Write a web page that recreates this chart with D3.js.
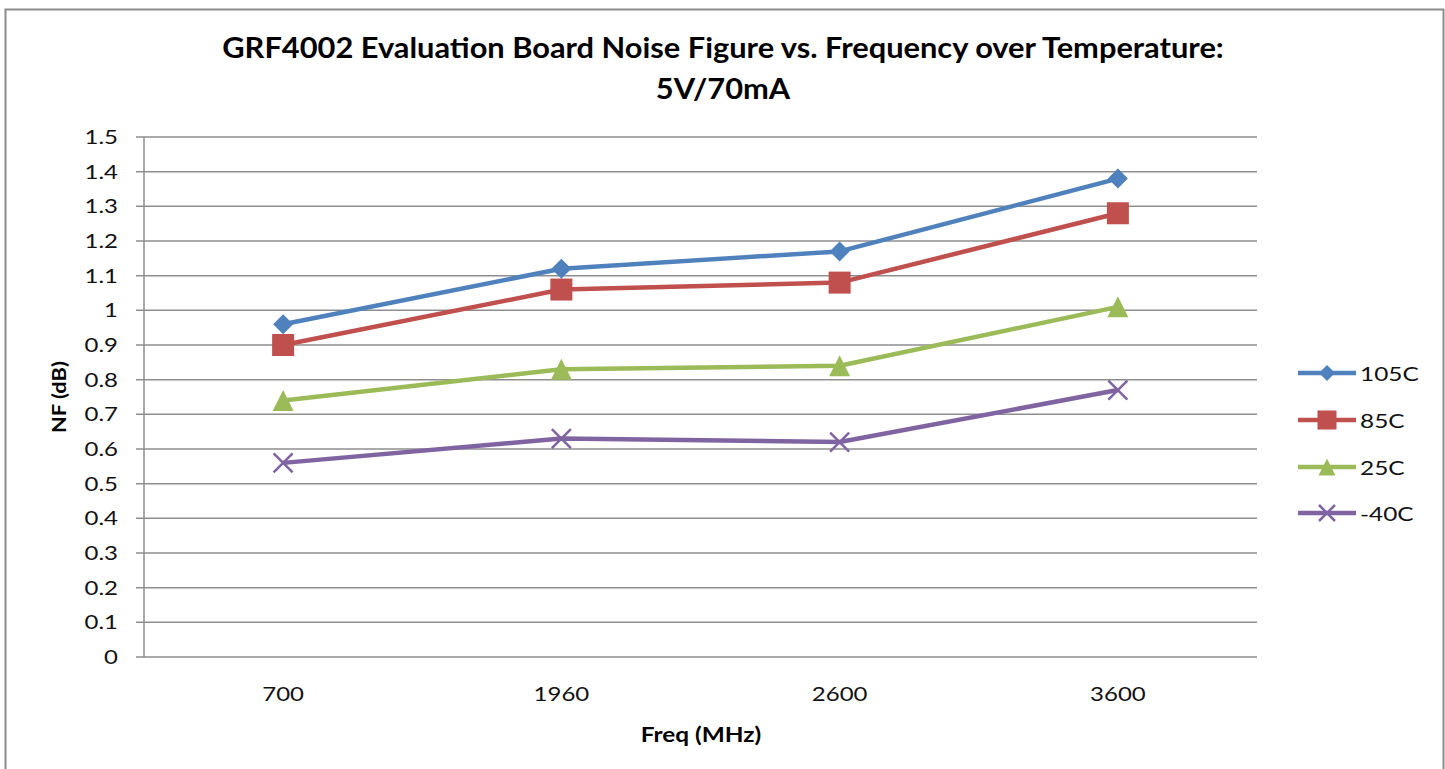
<!DOCTYPE html>
<html>
<head>
<meta charset="utf-8">
<script src="https://cdn.jsdelivr.net/npm/d3@7.9.0/dist/d3.min.js"></script>
<style>
  body { margin: 0; background: #fff; }
  svg { display: block; font-family: Lato, "Open Sans", sans-serif; }
</style>
</head>
<body>
<svg width="1445" height="769"></svg>
<script>
// data
const freqs = ['700', '1960', '2600', '3600'];
const seriesNames = ['105C', '85C', '25C', '-40C'];
const nf105 = [0.96, 1.12, 1.17, 1.38];
const nf85 = [0.90, 1.06, 1.08, 1.28];
const nf25 = [0.74, 0.83, 0.84, 1.01];
const nfMinus40 = [0.56, 0.63, 0.62, 0.77];
const yTicks = [0, 0.1, 0.2, 0.3, 0.4, 0.5, 0.6, 0.7, 0.8, 0.9, 1, 1.1, 1.2, 1.3, 1.4, 1.5];

const colors = ['#4F81BD', '#C0504D', '#9BBB59', '#8064A2'];
const markers = ['diamond', 'square', 'triangle', 'cross'];
const allValues = [nf105, nf85, nf25, nfMinus40];

const svg = d3.select('svg');

// text in the picture is stretched sideways a bit
function stretchText(sel, x, y, sx) {
    return sel.attr('transform', `translate(${x},${y}) scale(${sx},1)`);
}

// outer frame
svg.append('rect')
    .attr('x', 5.5).attr('y', 9.5)
    .attr('width', 1438).attr('height', 780)
    .attr('fill', 'none').attr('stroke', '#8c8c8c').attr('stroke-width', 2);

const plot = { left: 144, right: 1257, top: 137, bottom: 657 };

let x = d3.scalePoint().domain(freqs).range([plot.left, plot.right]).padding(0.5);
let y = d3.scaleLinear().domain([0, 1.5]).range([plot.bottom, plot.top]);

// gridlines
svg.append('g')
    .selectAll('line')
    .data(yTicks)
    .join('line')
    .attr('x1', plot.left - 8).attr('x2', plot.right)
    .attr('y1', d => y(d)).attr('y2', d => y(d))
    .attr('stroke', '#8e8e8e').attr('stroke-width', 1.5);

// y axis line
svg.append('line')
    .attr('x1', plot.left).attr('x2', plot.left)
    .attr('y1', plot.top).attr('y2', plot.bottom)
    .attr('stroke', '#8e8e8e').attr('stroke-width', 1.5);

// y tick labels
yTicks.forEach(t => {
    stretchText(svg.append('text'), 118, y(t) + 7, 1.2)
        .attr('text-anchor', 'end')
        .attr('font-size', 20)
        .attr('fill', '#111')
        .text(d3.format('~g')(t));
});

// x tick labels
freqs.forEach(f => {
    stretchText(svg.append('text'), x(f), 701, 1.2)
        .attr('text-anchor', 'middle')
        .attr('font-size', 20)
        .attr('fill', '#111')
        .text(f);
});

// axis titles
stretchText(svg.append('text'), 701, 742, 1.22)
    .attr('text-anchor', 'middle')
    .attr('font-size', 20).attr('font-weight', 'bold')
    .text('Freq (MHz)');

svg.append('text')
    .attr('transform', `translate(66,397) rotate(-90) scale(1.15,1)`)
    .attr('text-anchor', 'middle')
    .attr('font-size', 19).attr('font-weight', 'bold')
    .text('NF (dB)');

// title
stretchText(svg.append('text'), 723, 58, 1.1)
    .attr('text-anchor', 'middle')
    .attr('font-size', 28).attr('font-weight', 'bold')
    .text('GRF4002 Evaluation Board Noise Figure vs. Frequency over Temperature:');
stretchText(svg.append('text'), 723, 99, 1.1)
    .attr('text-anchor', 'middle')
    .attr('font-size', 28).attr('font-weight', 'bold')
    .text('5V/70mA');

function drawMarker(g, type, cx, cy, color, s) {
    if (type === 'diamond') {
        g.append('path')
            .attr('d', `M${cx},${cy - s / 2}L${cx + s / 2},${cy}L${cx},${cy + s / 2}L${cx - s / 2},${cy}Z`)
            .attr('fill', color);
    } else if (type === 'square') {
        g.append('rect')
            .attr('x', cx - s / 2).attr('y', cy - s / 2)
            .attr('width', s).attr('height', s)
            .attr('fill', color);
    } else if (type === 'triangle') {
        g.append('path')
            .attr('d', `M${cx},${cy - s / 2}L${cx + s / 2},${cy + s / 2}L${cx - s / 2},${cy + s / 2}Z`)
            .attr('fill', color);
    } else {
        let h = s / 2;
        g.append('path')
            .attr('d', `M${cx - h},${cy - h}L${cx + h},${cy + h}M${cx - h},${cy + h}L${cx + h},${cy - h}`)
            .attr('stroke', color).attr('stroke-width', 2.5).attr('fill', 'none');
    }
}

const markerSize = [20, 22, 21, 19];
const line = d3.line().x((d, i) => x(freqs[i])).y(d => y(d));

allValues.forEach((vals, si) => {
    let g = svg.append('g');
    g.append('path')
        .attr('d', line(vals))
        .attr('fill', 'none')
        .attr('stroke', colors[si])
        .attr('stroke-width', 4.5)
        .attr('stroke-linejoin', 'round');
    vals.forEach((v, i) => {
        drawMarker(g, markers[si], x(freqs[i]), y(v), colors[si], markerSize[si]);
    });
});

// legend
const legendY = [373, 420, 467, 513];
const legendMarker = [16, 19, 17, 16];
seriesNames.forEach((name, si) => {
    let g = svg.append('g');
    g.append('line')
        .attr('x1', 1298).attr('x2', 1356)
        .attr('y1', legendY[si]).attr('y2', legendY[si])
        .attr('stroke', colors[si]).attr('stroke-width', 4.5);
    drawMarker(g, markers[si], 1327, legendY[si], colors[si], legendMarker[si]);
    stretchText(g.append('text'), 1360, legendY[si] + 7.5, 1.22)
        .attr('font-size', 20)
        .attr('fill', '#111')
        .text(name);
});
</script>
</body>
</html>
